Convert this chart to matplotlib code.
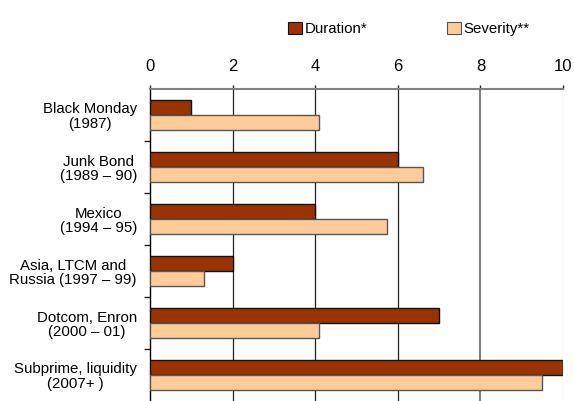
import matplotlib
matplotlib.use("Agg")
import matplotlib.pyplot as plt
from matplotlib.patches import Patch
import numpy as np

plt.rcParams['font.family'] = ['Liberation Sans', 'DejaVu Sans']

categories = [
    "Black Monday\n(1987)",
    "Junk Bond\n(1989 – 90)",
    "Mexico\n(1994 – 95)",
    "Asia, LTCM and\nRussia (1997 – 99)",
    "Dotcom, Enron\n(2000 – 01)",
    "Subprime, liquidity\n(2007+ )",
]
duration = [1, 6, 4, 2, 7, 10]
severity = [4.1, 6.6, 5.75, 1.3, 4.1, 9.5]
x_ticks = [0, 2, 4, 6, 8, 10]

fig = plt.figure(figsize=(5.74, 4.01), dpi=100)
ax = fig.add_axes([150 / 574, 0.0, 413 / 574, 1 - 89 / 401])

y = np.arange(len(categories))
h = 0.29

# vertical gridlines
for xv in x_ticks[1:-1]:
    if xv == 8:
        ax.axvline(xv, color="#808080", lw=1.5, zorder=1)
    else:
        ax.axvline(xv, color="#222222", lw=0.9, zorder=1)
ax.axvline(10, color="#e6e6e6", lw=1.0, zorder=1)

ax.barh(y - h / 2, duration, height=h, color="#993300", edgecolor="#111111",
        lw=1.0, zorder=3, label="Duration*")
ax.barh(y + h / 2, severity, height=h, color="#FFCC99", edgecolor="#555555",
        lw=1.0, zorder=3, label="Severity**")

ax.set_xlim(0, 10)
ax.set_ylim(len(categories) - 0.5, -0.5)

ax.xaxis.tick_top()
ax.set_xticks(x_ticks)
ax.set_xticklabels([str(v) for v in x_ticks], fontsize=12)
ax.tick_params(axis="x", which="major", length=3, width=1, color="#222222", pad=8)

ax.set_yticks(y)
ax.set_yticklabels(categories, fontsize=10.8, linespacing=1.05)
for lbl in ax.get_yticklabels():
    lbl.set_multialignment("center")
ax.tick_params(axis="y", which="major", length=0, pad=9.4)
ax.set_yticks(np.arange(0.5, len(categories) - 0.5, 1.0), minor=True)
ax.tick_params(axis="y", which="minor", length=4, width=1, color="#222222")

for s in ("bottom", "right"):
    ax.spines[s].set_visible(False)
ax.spines["top"].set_color("#808080")
ax.spines["top"].set_linewidth(1.5)
ax.spines["left"].set_color("#000000")
ax.spines["left"].set_linewidth(1.0)

labels = ["Duration*", "Severity**"]
handles = [Patch(facecolor="#993300", edgecolor="#111111", lw=0.8),
           Patch(facecolor="#FFCC99", edgecolor="#555555", lw=0.8)]
fig.legend(handles, labels, loc="center", bbox_to_anchor=(409 / 574, 1 - 29 / 401),
           ncol=2, frameon=False, fontsize=10.8, handlelength=0.9, handleheight=0.9,
           handletextpad=0.2, columnspacing=5.3)

fig.savefig("out.png", dpi=100)
